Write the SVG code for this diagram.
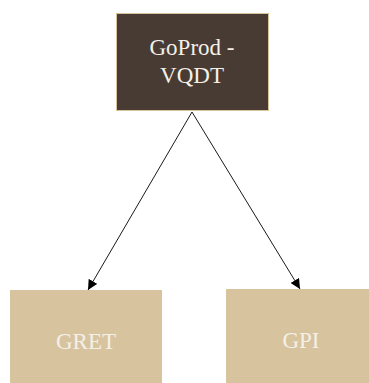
<svg xmlns="http://www.w3.org/2000/svg" width="369" height="383" viewBox="0 0 369 383">
  <style>
    .lbl { font-family: "Liberation Serif", "DejaVu Serif", serif; font-size: 23px; fill: #f4f0e8; text-anchor: middle; }
    .edge { stroke: #1a1a1a; stroke-width: 1; fill: none; marker-end: url(#arrow); }
    .leaf { fill: #d7c39e; }
  </style>
  <defs>
    <marker id="arrow" viewBox="0 0 10 10" refX="10" refY="5" markerWidth="10" markerHeight="10" markerUnits="userSpaceOnUse" orient="auto">
      <path d="M0,0 L10,5 L0,10 z" fill="#000"/>
    </marker>
  </defs>
  <rect width="369" height="383" fill="#fff"/>
  <g id="connectors">
    <line class="edge" x1="192" y1="112" x2="88" y2="290"/>
    <line class="edge" x1="192" y1="112" x2="300" y2="289"/>
  </g>
  <g id="goprod">
    <rect x="116.5" y="13.5" width="152" height="97" fill="#483b34" stroke="#d7c39e" stroke-width="1"/>
    <text class="lbl" x="192" y="55">GoProd -</text>
    <text class="lbl" x="192" y="83">VQDT</text>
  </g>
  <g id="gret">
    <rect class="leaf" x="10" y="290" width="152" height="93"/>
    <text class="lbl" x="86" y="349">GRET</text>
  </g>
  <g id="gpi">
    <rect class="leaf" x="226" y="289" width="143" height="94"/>
    <text class="lbl" x="301" y="348">GPI</text>
  </g>
</svg>
